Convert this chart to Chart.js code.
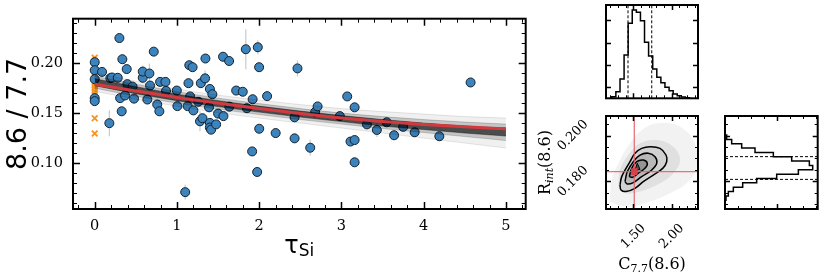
<!DOCTYPE html>
<html>
<head>
<meta charset="utf-8">
<script src="https://cdn.jsdelivr.net/npm/chart.js@4.4.1/dist/chart.umd.min.js"></script>
<style>
  body { margin: 0; background: #fff; }
  #wrap { position: relative; width: 830px; height: 277px; }
  canvas { position: absolute; }
</style>
</head>
<body>
<div id="wrap">
  <canvas id="main" width="540" height="277" style="left:0;top:0"></canvas>
  <canvas id="histC" width="105" height="105" style="left:600px;top:0"></canvas>
  <canvas id="joint" width="170" height="167" style="left:535px;top:110px"></canvas>
  <canvas id="histR" width="107" height="105" style="left:718px;top:110px"></canvas>
</div>
<script>
// ---- main panel : 8.6/7.7 ratio against tau_Si
var tauSi = [0, 0, 0, 0, 0, 0.089, 0.178, 0.19, 0.21, 0.28,
  0.30, 0.336, 0.389, 0.397, 0.46, 0.309, 0.369, 0.328, 0.478, 0.64,
  0.76, 0.786, 0.584, 0.584, 0.665, 0.673, 0.718, 0.795, 0.86, 0.867,
  0.998, 1.005, 1.10, 1.13, 1.14, 1.15, 1.19, 1.16, 1.20, 1.26,
  1.29, 1.342, 1.346, 1.40, 1.43, 1.39, 1.50, 1.565, 1.28, 1.31,
  1.40, 1.40, 1.415, 1.476, 1.56, 1.634, 1.637, 1.72, 1.80, 1.837,
  1.85, 1.914, 1.92, 1.975, 1.983, 1.999, 2.0, 2.096, 2.20, 2.43,
  2.43, 2.465, 2.62, 2.68, 2.71, 2.98, 3.07, 3.11, 3.16, 3.16,
  3.16, 3.31, 3.43, 3.55, 3.64, 3.75, 3.89, 4.19, 4.57]
var ratio = [0.201, 0.193, 0.184, 0.165, 0.162, 0.1913, 0.1399, 0.185, 0.1857, 0.1854,
  0.2252, 0.204, 0.1941, 0.179, 0.1766, 0.165, 0.1677, 0.1518, 0.1645, 0.1636,
  0.1586, 0.1518, 0.1854, 0.1916, 0.1897, 0.1776, 0.2116, 0.1813, 0.1813, 0.1723,
  0.1726, 0.157, 0.0708, 0.157, 0.180, 0.198, 0.196, 0.1667, 0.1527, 0.1614,
  0.180, 0.1848, 0.2047, 0.1742, 0.1689, 0.1558, 0.1495, 0.147, 0.1418, 0.1449,
  0.1402, 0.1355, 0.1334, 0.1387, 0.2065, 0.2022, 0.1564, 0.1726, 0.1714, 0.214,
  0.1549, 0.1116, 0.1639, 0.091, 0.216, 0.196, 0.1343, 0.167, 0.130, 0.1458,
  0.1247, 0.1948, 0.1153, 0.151, 0.1567, 0.147, 0.1667, 0.1215, 0.123, 0.1558,
  0.1007, 0.1387, 0.1331, 0.1408, 0.1278, 0.1362, 0.1308, 0.1268, 0.1807]
var ratioErr = [0.004, 0.005, 0.004, 0.003, 0.003, 0.004, 0.013, 0.003, 0.003, 0.003,
  0.003, 0.003, 0.003, 0.003, 0.003, 0.003, 0.003, 0.003, 0.003, 0.003,
  0.003, 0.003, 0.003, 0.006, 0.010, 0.003, 0.003, 0.004, 0.003, 0.003,
  0.003, 0.003, 0.0075, 0.003, 0.003, 0.003, 0.003, 0.003, 0.003, 0.003,
  0.003, 0.008, 0.003, 0.003, 0.003, 0.003, 0.003, 0.003, 0.010, 0.003,
  0.003, 0.003, 0.003, 0.003, 0.003, 0.003, 0.003, 0.003, 0.003, 0.020,
  0.003, 0.003, 0.003, 0.003, 0.007, 0.003, 0.003, 0.003, 0.003, 0.003,
  0.003, 0.008, 0.008, 0.006, 0.003, 0.003, 0.003, 0.003, 0.003, 0.003,
  0.003, 0.003, 0.007, 0.003, 0.003, 0.003, 0.003, 0.003, 0.003]
// sources without tau_Si (orange crosses at 0)
var noTauY = [0.2056, 0.2025, 0.200, 0.197, 0.1935, 0.190, 0.187, 0.184, 0.181,
  0.178, 0.175, 0.172, 0.169, 0.1449, 0.1296]

// fitted relation and spread of posterior draws
var fitTau    = [0, 0.5, 1, 1.5, 2, 2.5, 3, 3.5, 4, 4.5, 5]
var fitBest   = [0.1790, 0.1722, 0.1657, 0.1600, 0.1545, 0.1495, 0.1450, 0.1415, 0.1385, 0.1362, 0.1343]
var drawOutHi = [0.1900, 0.1820, 0.1740, 0.1680, 0.1630, 0.1585, 0.1545, 0.1515, 0.1490, 0.1465, 0.1450]
var drawMidHi = [0.1870, 0.1790, 0.1715, 0.1650, 0.1595, 0.1545, 0.1500, 0.1465, 0.1435, 0.1410, 0.1390]
var drawInHi  = [0.1845, 0.1765, 0.1690, 0.1625, 0.1570, 0.1520, 0.1475, 0.1435, 0.1400, 0.1370, 0.1350]
var drawInLo  = [0.1775, 0.1695, 0.1625, 0.1565, 0.1510, 0.1460, 0.1415, 0.1370, 0.1335, 0.1300, 0.1270]
var drawMidLo = [0.1750, 0.1670, 0.1600, 0.1540, 0.1485, 0.1435, 0.1390, 0.1345, 0.1305, 0.1265, 0.1225]
var drawOutLo = [0.1720, 0.1640, 0.1570, 0.1505, 0.1450, 0.1400, 0.1350, 0.1300, 0.1250, 0.1200, 0.1150]

var xMajor = [0, 1, 2, 3, 4, 5]
var xMinor = [-0.2, 0.2, 0.4, 0.6, 0.8, 1.2, 1.4, 1.6, 1.8, 2.2, 2.4, 2.6, 2.8,
  3.2, 3.4, 3.6, 3.8, 4.2, 4.4, 4.6, 4.8, 5.2]
var yMajor = [0.10, 0.15, 0.20]
var yMinor = [0.06, 0.07, 0.08, 0.09, 0.11, 0.12, 0.13, 0.14, 0.16, 0.17, 0.18,
  0.19, 0.21, 0.22, 0.23, 0.24]

// ---- corner panels : C_7.7(8.6) and R_int(8.6)
var cEdges  = [1.220, 1.273, 1.327, 1.380, 1.433, 1.486, 1.540, 1.593, 1.646, 1.699,
  1.753, 1.806, 1.859, 1.912, 1.966, 2.019, 2.072, 2.125, 2.178, 2.232]
var cCounts = [5, 20, 58, 130, 225, 265, 258, 233, 168, 127, 88, 63, 47, 33, 23, 13, 8, 4, 2]
var cQuant  = [1.431, 1.740]
var rEdges  = [0.20022, 0.19832, 0.19643, 0.19453, 0.19264, 0.19075, 0.18886, 0.18696,
  0.18506, 0.18317, 0.18127, 0.17938, 0.17749, 0.17560, 0.17370, 0.17181]
var rCounts = [5, 20, 50, 90, 145, 200, 253, 263, 220, 155, 95, 53, 25, 10, 3]
var rQuant  = [0.1908, 0.1809]
var truthC = 1.513
var truthR = 0.1843

// sample cloud and density contours (C, R) vertices
var cloudOutC = [1.197, 1.219, 1.327, 1.457, 1.587, 1.805, 2.108, 2.303, 2.326, 2.195, 1.978, 1.717, 1.414]
var cloudOutR = [0.1712, 0.1807, 0.1893, 0.1966, 0.2017, 0.2053, 0.2038, 0.1966, 0.1864, 0.1792, 0.1749, 0.1712, 0.1690]
var cloudInC  = [1.305, 1.327, 1.435, 1.587, 1.805, 2.021, 2.108, 2.021, 1.848, 1.587, 1.392]
var cloudInR  = [0.1777, 0.1850, 0.1915, 0.1966, 0.1980, 0.1951, 0.1893, 0.1836, 0.1792, 0.1756, 0.1749]
var cont1C = [1.327, 1.349, 1.405, 1.457, 1.522, 1.609, 1.717, 1.848, 1.926, 1.935, 1.883, 1.760, 1.630, 1.522, 1.405, 1.340]
var cont1R = [0.1785, 0.1821, 0.1857, 0.1886, 0.1923, 0.1944, 0.1951, 0.1944, 0.1915, 0.1886, 0.1857, 0.1828, 0.1799, 0.1770, 0.1756, 0.1763]
var cont2C = [1.392, 1.422, 1.500, 1.587, 1.695, 1.783, 1.805, 1.740, 1.609, 1.500, 1.422]
var cont2R = [0.1799, 0.1843, 0.1886, 0.1915, 0.1923, 0.1908, 0.1879, 0.1850, 0.1821, 0.1795, 0.1789]
var cont3C = [1.448, 1.479, 1.544, 1.630, 1.682, 1.652, 1.565, 1.492]
var cont3R = [0.1821, 0.1857, 0.1886, 0.1893, 0.1879, 0.1857, 0.1836, 0.1818]
var cont4C = [1.522, 1.552, 1.587]
var cont4R = [0.1847, 0.1879, 0.1853]

var cMajor = [1.5, 2.0]
var cMinor = [1.2, 1.3, 1.4, 1.6, 1.7, 1.8, 1.9, 2.1, 2.2, 2.3]
var rMajor = [0.18, 0.20]
var rMinor = [0.17, 0.175, 0.185, 0.19, 0.195, 0.205]
var cntMajorC = [33, 100, 167, 235]
var cntMajorR = [155]
var cntMinorR = [39, 78, 116, 194, 233, 272]

function pts (xs, ys) {
  return xs.map(function (x, i) { return {x: x, y: ys[i]} })
}
function loop (xs, ys) {
  var p = pts(xs, ys)
  p.push(p[0])
  return p
}

// frame with inward ticks on the four sides
var framePlugin = {
  id: 'frame',
  afterDatasetsDraw: function (chart, args, o) {
    var ctx = chart.ctx, a = chart.chartArea
    var sx = chart.scales.x, sy = chart.scales.y
    ctx.save()
    ctx.strokeStyle = '#000'
    function xt (vals, len, w) {
      ctx.lineWidth = w
      ctx.beginPath()
      ;(vals || []).forEach(function (v) {
        var p = Math.round(sx.getPixelForValue(v)) + 0.5
        ctx.moveTo(p, a.bottom); ctx.lineTo(p, a.bottom - len)
        ctx.moveTo(p, a.top); ctx.lineTo(p, a.top + len)
      })
      ctx.stroke()
    }
    function yt (vals, len, w) {
      ctx.lineWidth = w
      ctx.beginPath()
      ;(vals || []).forEach(function (v) {
        var p = Math.round(sy.getPixelForValue(v)) + 0.5
        ctx.moveTo(a.left, p); ctx.lineTo(a.left + len, p)
        ctx.moveTo(a.right, p); ctx.lineTo(a.right - len, p)
      })
      ctx.stroke()
    }
    xt(o.xMinor, o.minorLen, 1)
    xt(o.xMajor, o.majorLen, 1.5)
    yt(o.yMinor, o.minorLen, 1)
    yt(o.yMajor, o.majorLen, 1.5)
    ctx.lineWidth = o.border
    ctx.strokeRect(a.left, a.top, a.right - a.left, a.bottom - a.top)
    ctx.restore()
  }
}

function drawParts (ctx, parts, x, y, rot) {
  ctx.save()
  ctx.translate(x, y)
  ctx.rotate(rot || 0)
  ctx.fillStyle = '#000'
  ctx.textBaseline = 'middle'
  ctx.textAlign = 'left'
  var total = 0
  parts.forEach(function (p) {
    ctx.font = (p.style || '') + ' ' + p.size + 'px ' + (p.family || '"DejaVu Serif"')
    p.w = ctx.measureText(p.t).width
    total += p.w
  })
  var cx = -total / 2
  parts.forEach(function (p) {
    ctx.font = (p.style || '') + ' ' + p.size + 'px ' + (p.family || '"DejaVu Serif"')
    ctx.fillText(p.t, cx, p.dy || 0)
    cx += p.w
  })
  ctx.restore()
}

var errPlugin = {
  id: 'errbars',
  beforeDatasetsDraw: function (chart) {
    var ctx = chart.ctx, sx = chart.scales.x, sy = chart.scales.y
    ctx.save()
    ctx.strokeStyle = 'rgba(150,150,150,0.5)'
    ctx.lineWidth = 1.2
    ctx.beginPath()
    tauSi.forEach(function (t, i) {
      var px = sx.getPixelForValue(t)
      ctx.moveTo(px, sy.getPixelForValue(ratio[i] - ratioErr[i]))
      ctx.lineTo(px, sy.getPixelForValue(ratio[i] + ratioErr[i]))
    })
    ctx.stroke()
    ctx.restore()
  }
}

var xTitlePlugin = {
  id: 'xtitle',
  afterDraw: function (chart) {
    var a = chart.chartArea
    drawParts(chart.ctx, [
      {t: '\u03c4', size: 24, family: '"DejaVu Sans"'},
      {t: 'Si', size: 17, family: '"DejaVu Sans"', dy: 5}
    ], (a.left + a.right) / 2, 247, 0)
  }
}

function band (ys, color, fill, bg) {
  return {
    type: 'line', data: pts(fitTau, ys), borderColor: color, borderWidth: 1,
    pointRadius: 0, cubicInterpolationMode: 'monotone', fill: fill,
    backgroundColor: bg, order: 1
  }
}

new Chart(document.getElementById('main'), {
  type: 'scatter',
  data: {
    datasets: [
      {type: 'line', data: pts(fitTau, fitBest), borderColor: '#d33a40', borderWidth: 3,
        pointRadius: 0, cubicInterpolationMode: 'monotone', fill: false, order: 0},
      band(drawOutHi, 'rgba(0,0,0,0.10)', '+5', 'rgba(0,0,0,0.06)'),
      band(drawMidHi, 'rgba(0,0,0,0.18)', '+3', 'rgba(0,0,0,0.18)'),
      band(drawInHi, 'rgba(0,0,0,0.4)', '+1', 'rgba(0,0,0,0.62)'),
      band(drawInLo, 'rgba(0,0,0,0.4)', false, 'transparent'),
      band(drawMidLo, 'rgba(0,0,0,0.18)', false, 'transparent'),
      band(drawOutLo, 'rgba(0,0,0,0.10)', false, 'transparent'),
      {data: pts(tauSi, ratio), pointRadius: 4.5, pointBackgroundColor: '#3c84be',
        pointBorderColor: '#15222e', pointBorderWidth: 1, order: 3},
      {data: noTauY.map(function (y) { return {x: 0, y: y} }), pointStyle: 'crossRot',
        pointRadius: 4, pointBorderColor: '#f7931e', pointBorderWidth: 1.8, order: 4}
    ]
  },
  options: {
    responsive: false, animation: false,
    layout: {padding: {top: 5, right: 14.3, left: 0, bottom: 0}},
    plugins: {
      legend: {display: false}, tooltip: {enabled: false},
      frame: {xMajor: xMajor, xMinor: xMinor, yMajor: yMajor, yMinor: yMinor,
        majorLen: 7, minorLen: 4, border: 2}
    },
    scales: {
      x: {
        type: 'linear', min: -0.264, max: 5.24,
        grid: {display: false, drawTicks: false}, border: {display: false},
        ticks: {font: {family: 'DejaVu Serif', size: 14.5}, color: '#000', padding: 9,
          callback: function (v) { return String(v) }},
        afterBuildTicks: function (s) { s.ticks = xMajor.map(function (v) { return {value: v} }) },
        afterFit: function (s) { s.height = 68 }
      },
      y: {
        min: 0.0539, max: 0.2446,
        grid: {display: false, drawTicks: false}, border: {display: false},
        ticks: {font: {family: 'DejaVu Serif', size: 14.5}, color: '#000', padding: 10,
          callback: function (v) { return v.toFixed(2) }},
        afterBuildTicks: function (s) { s.ticks = yMajor.map(function (v) { return {value: v} }) },
        afterFit: function (s) { s.width = 73 },
        title: {display: true, text: '8.6 / 7.7', color: '#000',
          font: {family: 'DejaVu Sans', size: 27}, padding: {top: 3, bottom: 0}}
      }
    }
  },
  plugins: [errPlugin, framePlugin, xTitlePlugin]
})

// step outline of a histogram, along x (vertical bars) or along y
function stepX (edges, counts) {
  var p = [{x: edges[0], y: 0}]
  counts.forEach(function (c, i) {
    p.push({x: edges[i], y: c}); p.push({x: edges[i + 1], y: c})
  })
  p.push({x: edges[edges.length - 1], y: 0})
  return p
}
function stepY (edges, counts) {
  var p = [{x: 0, y: edges[0]}]
  counts.forEach(function (c, i) {
    p.push({x: c, y: edges[i]}); p.push({x: c, y: edges[i + 1]})
  })
  p.push({x: 0, y: edges[edges.length - 1]})
  return p
}

var cMin = 1.1445, cMax = 2.3424, rMin = 0.1680, rMax = 0.2085
var cornerBase = {
  responsive: false, animation: false,
  plugins: {legend: {display: false}, tooltip: {enabled: false}}
}
function lineSet (data, extra) {
  var d = {type: 'line', data: data, borderColor: '#000', borderWidth: 1.3, pointRadius: 0,
    fill: false, tension: 0}
  for (var k in extra) d[k] = extra[k]
  return d
}

new Chart(document.getElementById('histC'), {
  type: 'scatter',
  data: {
    datasets: [
      lineSet(stepX(cEdges, cCounts), {borderWidth: 1.5}),
      lineSet([{x: cQuant[0], y: 0}, {x: cQuant[0], y: 280}], {borderDash: [3, 2], borderWidth: 1}),
      lineSet([{x: cQuant[1], y: 0}, {x: cQuant[1], y: 280}], {borderDash: [3, 2], borderWidth: 1})
    ]
  },
  options: Object.assign({}, cornerBase, {
    layout: {padding: {left: 6, top: 5, right: 7, bottom: 6.7}},
    plugins: {legend: {display: false}, tooltip: {enabled: false},
      frame: {xMajor: cMajor, xMinor: cMinor, yMajor: cntMajorC, yMinor: [],
        majorLen: 5, minorLen: 3, border: 2}},
    scales: {
      x: {type: 'linear', min: cMin, max: cMax, display: false},
      y: {min: 0, max: 280, display: false}
    }
  }),
  plugins: [framePlugin]
})

new Chart(document.getElementById('histR'), {
  type: 'scatter',
  data: {
    datasets: [
      lineSet(stepY(rEdges, rCounts), {borderWidth: 1.5}),
      lineSet([{x: 0, y: rQuant[0]}, {x: 278, y: rQuant[0]}], {borderDash: [3, 2], borderWidth: 1}),
      lineSet([{x: 0, y: rQuant[1]}, {x: 278, y: rQuant[1]}], {borderDash: [3, 2], borderWidth: 1})
    ]
  },
  options: Object.assign({}, cornerBase, {
    layout: {padding: {left: 7, top: 6, right: 7.3, bottom: 6}},
    plugins: {legend: {display: false}, tooltip: {enabled: false},
      frame: {xMajor: cntMajorR, xMinor: cntMinorR, yMajor: rMajor, yMinor: rMinor,
        majorLen: 5, minorLen: 3, border: 2}},
    scales: {
      x: {type: 'linear', min: 0, max: 278, display: false},
      y: {min: rMin, max: rMax, display: false}
    }
  }),
  plugins: [framePlugin]
})

var jointLabels = {
  id: 'jointLabels',
  afterDraw: function (chart) {
    var ctx = chart.ctx, a = chart.chartArea
    var sx = chart.scales.x, sy = chart.scales.y
    cMajor.forEach(function (v) {
      drawParts(ctx, [{t: v.toFixed(2), size: 13}], sx.getPixelForValue(v), a.bottom + 27.5, -Math.PI / 4)
    })
    rMajor.forEach(function (v) {
      drawParts(ctx, [{t: v.toFixed(3), size: 13}], a.left - 33, sy.getPixelForValue(v), -Math.PI / 4)
    })
    drawParts(ctx, [
      {t: 'C', size: 16}, {t: '7.7', size: 11, dy: 4}, {t: '(8.6)', size: 16}
    ], (a.left + a.right) / 2, 155, 0)
    drawParts(ctx, [
      {t: 'R', size: 16}, {t: 'int', size: 11, dy: 4, style: 'italic'}, {t: '(8.6)', size: 16}
    ], 11, (a.top + a.bottom) / 2, -Math.PI / 2)
  }
}

new Chart(document.getElementById('joint'), {
  type: 'scatter',
  data: {
    datasets: [
      lineSet(loop(cloudOutC, cloudOutR), {borderWidth: 0, borderColor: 'transparent',
        fill: 'shape', backgroundColor: 'rgba(0,0,0,0.05)', tension: 0.4, order: 6}),
      lineSet(loop(cloudInC, cloudInR), {borderWidth: 0, borderColor: 'transparent',
        fill: 'shape', backgroundColor: 'rgba(0,0,0,0.08)', tension: 0.4, order: 5}),
      lineSet(loop(cont1C, cont1R), {fill: 'shape', backgroundColor: 'rgba(0,0,0,0.07)',
        tension: 0.4, borderWidth: 1.5, order: 4}),
      lineSet(loop(cont2C, cont2R), {fill: 'shape', backgroundColor: 'rgba(0,0,0,0.12)',
        tension: 0.4, borderWidth: 1.5, order: 3}),
      lineSet(loop(cont3C, cont3R), {fill: 'shape', backgroundColor: 'rgba(0,0,0,0.2)',
        tension: 0.4, borderWidth: 1.5, order: 2}),
      lineSet(loop(cont4C, cont4R), {fill: 'shape', backgroundColor: 'rgba(0,0,0,0.45)',
        borderWidth: 1, order: 2}),
      lineSet([{x: truthC, y: rMin}, {x: truthC, y: rMax}], {borderColor: 'rgba(228,90,100,0.85)',
        borderWidth: 1.3, order: 1}),
      lineSet([{x: cMin, y: truthR}, {x: cMax, y: truthR}], {borderColor: 'rgba(228,90,100,0.85)',
        borderWidth: 1.3, order: 1}),
      {data: [{x: truthC, y: truthR}], pointStyle: 'rect', pointRadius: 4,
        pointBackgroundColor: '#d8404a', pointBorderColor: '#d8404a', order: 0}
    ]
  },
  options: Object.assign({}, cornerBase, {
    layout: {padding: {left: 71, top: 6, right: 7, bottom: 68}},
    plugins: {legend: {display: false}, tooltip: {enabled: false},
      frame: {xMajor: cMajor, xMinor: cMinor, yMajor: rMajor, yMinor: rMinor,
        majorLen: 5, minorLen: 3, border: 2}},
    scales: {
      x: {type: 'linear', min: cMin, max: cMax, display: false},
      y: {min: rMin, max: rMax, display: false}
    }
  }),
  plugins: [framePlugin, jointLabels]
})
</script>
</body>
</html>
